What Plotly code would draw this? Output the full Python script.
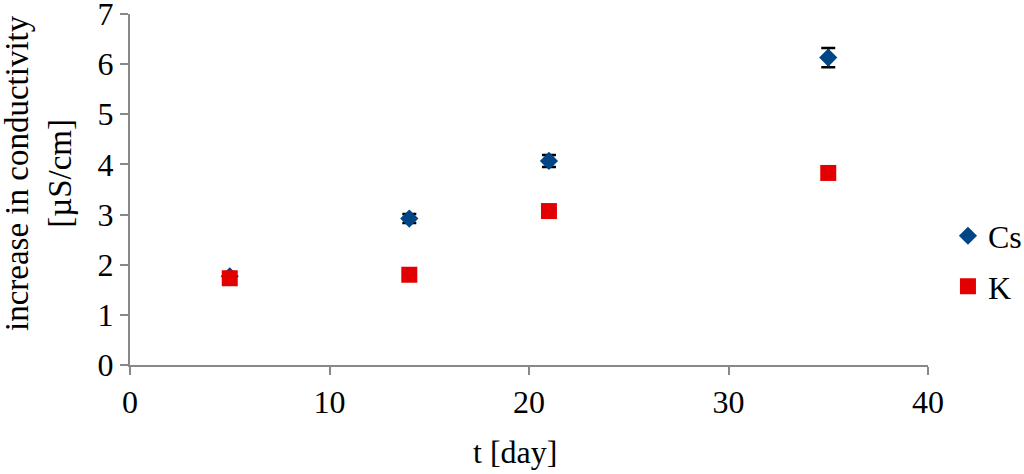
import plotly.graph_objects as go

days = [5, 14, 21, 35]
cs_values = [1.77, 2.92, 4.07, 6.13]
cs_errors = [0.04, 0.09, 0.12, 0.19]
k_values = [1.73, 1.80, 3.07, 3.83]

x_ticks = [0, 10, 20, 30, 40]
y_ticks = [0, 1, 2, 3, 4, 5, 6, 7]

font = "Liberation Serif, Times New Roman, serif"
axis_grey = "#888888"

fig = go.Figure()
fig.add_trace(go.Scatter(
    x=days, y=cs_values, mode="markers", name="Cs", legendgroup="cs",
    marker=dict(symbol="diamond", size=14, color="#004586"),
    error_y=dict(type="data", array=cs_errors, color="black", thickness=2.5, width=7),
))
fig.add_trace(go.Scatter(
    x=days, y=k_values, mode="markers", name="K", legendgroup="k",
    marker=dict(symbol="square", size=16, color="#E20000"),
))

fig.update_layout(
    width=1024, height=474,
    margin=dict(l=130, r=96, t=14, b=109, autoexpand=False),
    paper_bgcolor="white", plot_bgcolor="white",
    font=dict(family=font, size=32, color="black"),
    legend=dict(
        x=1.025, xanchor="left", y=0.446, yanchor="top",
        traceorder="grouped", tracegroupgap=6, itemwidth=30,
        font=dict(size=32), bgcolor="rgba(0,0,0,0)",
    ),
    annotations=[
        dict(text="t [day]", xref="paper", yref="paper", x=(515 - 130) / 798, y=(365 - 452) / 351,
             xanchor="center", yanchor="middle", showarrow=False, font=dict(size=32)),
        dict(text="increase in conductivity<br>[µS/cm]", xref="paper", yref="paper",
             x=(39 - 130) / 798, y=(365 - 173) / 351, xanchor="center", yanchor="middle",
             textangle=-90, showarrow=False, font=dict(size=33)),
    ],
)
fig.update_xaxes(
    range=[0, 40], tickvals=x_ticks, showgrid=False, zeroline=False, automargin=False,
    showline=True, linecolor=axis_grey, linewidth=2, ticklabeloverflow="allow",
    ticks="outside", ticklen=8, tickwidth=2, tickcolor=axis_grey,
)
fig.update_yaxes(
    range=[0, 7], tickvals=y_ticks, showgrid=False, zeroline=False, automargin=False,
    showline=True, linecolor=axis_grey, linewidth=2, ticklabeloverflow="allow",
    ticks="outside", ticklen=8, tickwidth=2, tickcolor=axis_grey,
)

fig.write_html("out.html", config={"displayModeBar": False},
               post_script="document.body.style.margin = '0';")
